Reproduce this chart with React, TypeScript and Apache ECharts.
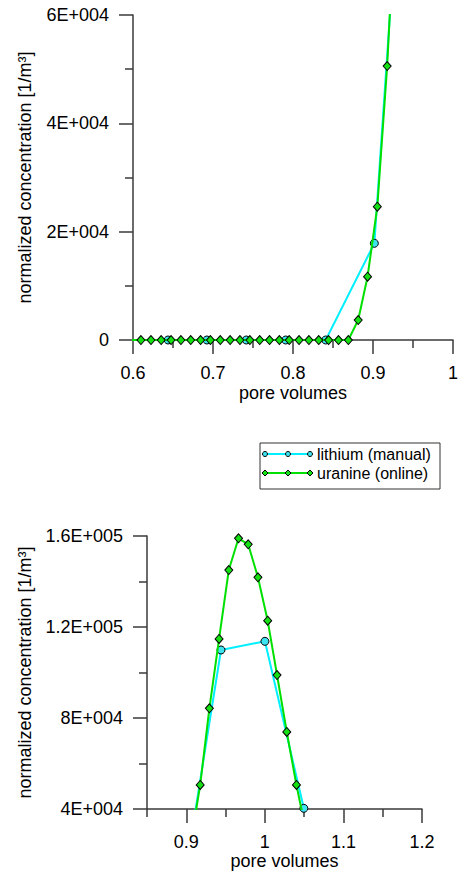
import React, { useEffect, useRef } from "react";
import * as echarts from "echarts";

// lithium (manual) samples: pore volumes / normalized concentration
const pvLithium = [0.6438, 0.6924, 0.7416, 0.7909, 0.8409, 0.9017, 0.9442, 1.0001, 1.0496];
const concLithium = [0, 0, 0, 0, 0, 17850, 109900, 113700, 40300];

// uranine (online) samples
const pvUranine = [
  0.598, 0.6099, 0.6225, 0.6352, 0.6476, 0.6599, 0.6722, 0.6845, 0.6968, 0.7091, 0.7214,
  0.7337, 0.7461, 0.7584, 0.7707, 0.783, 0.7953, 0.8076, 0.8199, 0.8322, 0.8445, 0.8569,
  0.8692, 0.8815, 0.8932, 0.9054, 0.9177, 0.9294, 0.9417, 0.9541, 0.9665, 0.9788, 0.9912,
  1.0036, 1.0155, 1.0279, 1.0402, 1.0525,
];
const concUranine = [
  0, 0, 0, 0, 0, 0, 0, 0, 0, 0, 0,
  0, 0, 0, 0, 0, 0, 0, 0, 0, 0, 0,
  0, 3690, 11690, 24610, 50580, 84260, 114730, 145050, 158990, 156350, 141850,
  122770, 98900, 73850, 50550, 30000,
];

const topXTicks = [0.6, 0.7, 0.8, 0.9, 1.0];
const bottomXMajor = [0.9, 1.0, 1.1, 1.2];
const bottomXMinor = [0.85, 0.95, 1.05, 1.15];
const legendNames = ["lithium (manual)", "uranine (online)"];

const FONT = "'Liberation Sans', Arial, sans-serif";
const AXIS_COLOR = "#3a3a3a";
const CYAN = "#00f0ff";
const CYAN_FILL = "#3ee3f0";
const GREEN = "#00e000";
const GREEN_FILL = "#14e014";

function sci(v: number): string {
  if (v === 0) return "0";
  const e = Math.floor(Math.log10(Math.abs(v)) + 1e-9);
  const m = Math.round((v / Math.pow(10, e)) * 10) / 10;
  return `${m}E+${String(e).padStart(3, "0")}`;
}

export default function App() {
  const ref = useRef<HTMLDivElement>(null);
  useEffect(() => {
    if (!ref.current) return;
    const chart = echarts.init(ref.current, undefined, { renderer: "svg" });
    const lith = pvLithium.map((x, i) => [x, concLithium[i]]);
    const uran = pvUranine.map((x, i) => [x, concUranine[i]]);

    const baseAxis = {
      axisLine: { show: true, lineStyle: { color: AXIS_COLOR, width: 1.5 } },
      splitLine: { show: false },
      nameLocation: "middle" as const,
      nameTextStyle: { fontFamily: FONT, fontSize: 18, color: "#000" },
    };
    const labelStyle = { fontFamily: FONT, fontSize: 18, color: "#000" };

    const lithSeries = (xi: number, yi: number) => ({
      type: "line",
      name: legendNames[0],
      data: lith,
      xAxisIndex: xi,
      yAxisIndex: yi,
      symbol: "circle",
      symbolSize: 8,
      showAllSymbol: true,
      clip: true,
      lineStyle: { color: CYAN, width: 2 },
      itemStyle: { color: CYAN_FILL, borderColor: "#000", borderWidth: 1 },
      z: 2,
    });
    const uranSeries = (xi: number, yi: number) => ({
      type: "line",
      name: legendNames[1],
      data: uran,
      xAxisIndex: xi,
      yAxisIndex: yi,
      symbol: "diamond",
      symbolSize: [8, 9],
      showAllSymbol: true,
      clip: true,
      lineStyle: { color: GREEN, width: 2 },
      itemStyle: { color: GREEN_FILL, borderColor: "#000", borderWidth: 1 },
      z: 3,
    });

    const lg = (row: number) => 454 + row * 19;
    const graphic: any[] = [
      {
        type: "rect",
        shape: { x: 260, y: 443, width: 180, height: 46 },
        style: { fill: "#fff", stroke: "#333", lineWidth: 1 },
      },
      { type: "line", shape: { x1: 265, y1: lg(0), x2: 310, y2: lg(0) }, style: { stroke: CYAN, lineWidth: 2 } },
      { type: "line", shape: { x1: 265, y1: lg(1), x2: 310, y2: lg(1) }, style: { stroke: GREEN, lineWidth: 2 } },
    ];
    [265, 288, 310].forEach((cx) => {
      graphic.push({
        type: "circle",
        shape: { cx, cy: lg(0), r: 2.5 },
        style: { fill: CYAN_FILL, stroke: "#000", lineWidth: 1 },
      });
      graphic.push({
        type: "polygon",
        shape: { points: [[cx, lg(1) - 3], [cx + 3, lg(1)], [cx, lg(1) + 3], [cx - 3, lg(1)]] },
        style: { fill: GREEN_FILL, stroke: "#000", lineWidth: 1 },
      });
    });
    legendNames.forEach((t, i) => {
      graphic.push({
        type: "text",
        x: 317,
        y: lg(i),
        style: { text: t, font: `16px ${FONT}`, fill: "#000", verticalAlign: "middle", align: "left" },
      });
    });

    chart.setOption({
      animation: false,
      backgroundColor: "#fff",
      grid: [
        { left: 133, top: 15, width: 324, height: 325, containLabel: false },
        { left: 147, top: 536, width: 275, height: 273, containLabel: false },
      ],
      xAxis: [
        {
          ...baseAxis,
          type: "value",
          gridIndex: 0,
          position: "bottom",
          min: 0.6,
          max: 1.0,
          interval: 0.1,
          name: "pore volumes",
          nameGap: 44,
          axisTick: { show: true, length: 14, lineStyle: { color: AXIS_COLOR, width: 1.5 } },
          minorTick: { show: true, splitNumber: 2, length: 8, lineStyle: { color: AXIS_COLOR, width: 1.5 } },
          axisLabel: { ...labelStyle, margin: 24, customValues: topXTicks },
        },
        {
          ...baseAxis,
          type: "value",
          gridIndex: 1,
          position: "bottom",
          min: 0.85,
          max: 1.2,
          name: "pore volumes",
          nameGap: 40,
          axisTick: { show: true, length: 14, customValues: bottomXMajor, lineStyle: { color: AXIS_COLOR, width: 1.5 } },
          axisLabel: { ...labelStyle, margin: 24, customValues: bottomXMajor },
        },
        {
          type: "value",
          gridIndex: 1,
          position: "bottom",
          offset: 0,
          min: 0.85,
          max: 1.2,
          axisLine: { show: false },
          splitLine: { show: false },
          axisTick: { show: true, length: 8, customValues: bottomXMinor, lineStyle: { color: AXIS_COLOR, width: 1.5 } },
          axisLabel: { show: false },
        },
      ],
      yAxis: [
        {
          ...baseAxis,
          type: "value",
          gridIndex: 0,
          min: 0,
          max: 60000,
          interval: 20000,
          name: "normalized concentration [1/m³]",
          nameGap: 99,
          axisTick: { show: true, length: 14, lineStyle: { color: AXIS_COLOR, width: 1.5 } },
          minorTick: { show: true, splitNumber: 2, length: 8, lineStyle: { color: AXIS_COLOR, width: 1.5 } },
          axisLabel: { ...labelStyle, margin: 24, formatter: (v: number) => sci(v) },
        },
        {
          ...baseAxis,
          type: "value",
          gridIndex: 1,
          min: 40000,
          max: 160000,
          interval: 40000,
          name: "normalized concentration [1/m³]",
          nameGap: 113,
          axisTick: { show: true, length: 14, lineStyle: { color: AXIS_COLOR, width: 1.5 } },
          minorTick: { show: true, splitNumber: 2, length: 8, lineStyle: { color: AXIS_COLOR, width: 1.5 } },
          axisLabel: { ...labelStyle, margin: 24, formatter: (v: number) => sci(v) },
        },
      ],
      series: [lithSeries(0, 0), uranSeries(0, 0), lithSeries(1, 1), uranSeries(1, 1)],
      graphic,
    });
    return () => chart.dispose();
  }, []);
  return (
    <div
      ref={ref}
      style={{ position: "fixed", left: 0, top: 0, width: 461, height: 877, background: "#fff" }}
    />
  );
}
